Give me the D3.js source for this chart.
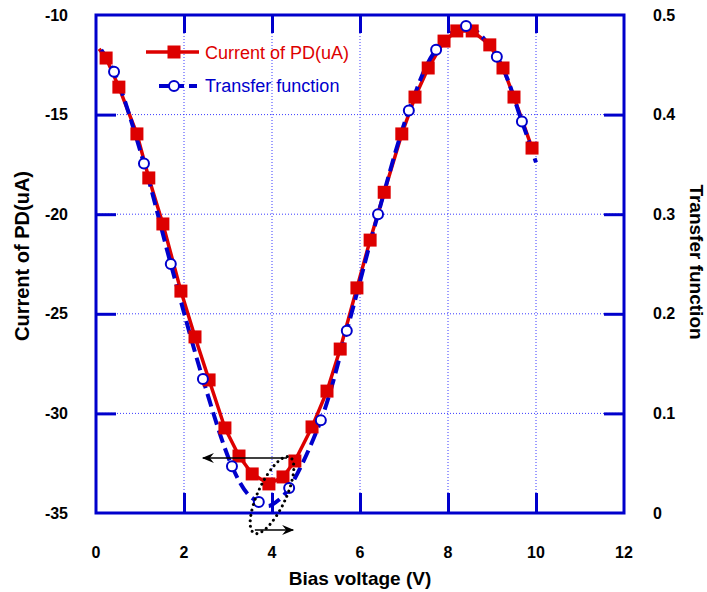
<!DOCTYPE html>
<html>
<head>
<meta charset="utf-8">
<script src="https://cdn.jsdelivr.net/npm/d3@7"></script>
<style>
  html, body { margin: 0; padding: 0; background: #fff; }
  svg { display: block; font-family: "Liberation Sans", Arial, sans-serif; }
</style>
</head>
<body>
<svg id="chart" width="707" height="592"></svg>
<script>
// ---- data ----
const xTicks = [0, 2, 4, 6, 8, 10, 12];
const yLeftTicks = [-10, -15, -20, -25, -30, -35];
const yRightTicks = [0, 0.1, 0.2, 0.3, 0.4, 0.5];
const yRightLabels = ["0", "0.1", "0.2", "0.3", "0.4", "0.5"];

// Current of PD (uA); first point is the line start (no marker)
const currentX = [0.07, 0.23, 0.52, 0.93, 1.2, 1.52, 1.93, 2.25, 2.57, 2.93, 3.25, 3.55, 3.93, 4.25, 4.52, 4.91, 5.25, 5.55, 5.93, 6.23, 6.55, 6.95, 7.25, 7.55, 7.91, 8.2, 8.55, 8.95, 9.25, 9.5, 9.91];
const currentY = [-11.7, -12.16, -13.62, -15.97, -18.18, -20.49, -23.86, -26.16, -28.32, -30.73, -32.14, -33.04, -33.54, -33.19, -32.39, -30.68, -28.88, -26.77, -23.7, -21.3, -18.9, -15.97, -14.12, -12.66, -11.31, -10.8, -10.8, -11.5, -12.66, -14.12, -16.68];

// Transfer function: curve and marker points
const tfLineX = [0.12, 0.41, 1.09, 1.7, 2.43, 3.09, 3.45, 3.7, 3.92, 4.15, 4.39, 5.11, 5.7, 6.41, 7.11, 7.73, 8.41, 9.11, 9.68, 10.0];
const tfLineY = [0.465, 0.443, 0.351, 0.25, 0.1345, 0.047, 0.019, 0.011, 0.007, 0.013, 0.025, 0.093, 0.183, 0.300, 0.404, 0.465, 0.489, 0.458, 0.393, 0.352];
const tfMarkX = [0.41, 1.09, 1.7, 2.43, 3.09, 3.7, 4.39, 5.11, 5.7, 6.41, 7.11, 7.73, 8.41, 9.11, 9.68];
const tfMarkY = [0.443, 0.351, 0.25, 0.1345, 0.047, 0.011, 0.025, 0.093, 0.183, 0.300, 0.404, 0.465, 0.489, 0.458, 0.393];

// annotations (data units)
const arrowTop = { x1: 4.34, x2: 2.43, y: -32.24 };
const arrowBottom = { x1: 3.61, x2: 4.48, y: -35.85 };
const ellipseCenter = { x: 4.0, y: -34.1 };

// ---- layout ----
const L = 96, R = 624, T = 15, B = 513;
const BLUE = "#0000CC", RED = "#DD0000", GRID = "#3a3aff";

const svg = d3.select("#chart");
const x = d3.scaleLinear().domain([0, 12]).range([L, R]);
const yL = d3.scaleLinear().domain([-35, -10]).range([B, T]);
const yR = d3.scaleLinear().domain([0, 0.5]).range([B, T]);

// defs: arrowheads
const defs = svg.append("defs");
defs.append("marker").attr("id", "arr")
  .attr("viewBox", "0 0 12 10").attr("refX", 11).attr("refY", 5)
  .attr("markerWidth", 13).attr("markerHeight", 10).attr("markerUnits", "userSpaceOnUse")
  .attr("orient", "auto")
  .append("path").attr("d", "M0,0 L12,5 L0,10 L4,5 Z").attr("fill", "#000");

// grid
const gridX = xTicks.filter(d => d > 0 && d < 12);
const gridY = yLeftTicks.filter(d => d > -35 && d < -10);
svg.append("g").selectAll("line").data(gridX).join("line")
  .attr("x1", d => x(d)).attr("x2", d => x(d)).attr("y1", T).attr("y2", B)
  .attr("stroke", GRID).attr("stroke-width", 1).attr("stroke-dasharray", "1,2");
svg.append("g").selectAll("line").data(gridY).join("line")
  .attr("x1", L).attr("x2", R).attr("y1", d => yL(d)).attr("y2", d => yL(d))
  .attr("stroke", GRID).attr("stroke-width", 1).attr("stroke-dasharray", "1,2");

// axes with inward ticks
function styleAxis(g) {
  g.select(".domain").remove();
  g.selectAll(".tick line").attr("stroke", BLUE).attr("stroke-width", 3);
  g.selectAll(".tick text").remove();
}
svg.append("g").attr("transform", `translate(${L},0)`)
  .call(d3.axisRight(yL).tickValues(gridY).tickSize(20)).call(styleAxis);
svg.append("g").attr("transform", `translate(${R},0)`)
  .call(d3.axisLeft(yR).tickValues(yRightTicks.slice(1, 5)).tickSize(20)).call(styleAxis);
svg.append("g").attr("transform", `translate(0,${B})`)
  .call(d3.axisTop(x).tickValues(gridX).tickSize(20)).call(styleAxis);
svg.append("g").attr("transform", `translate(0,${T})`)
  .call(d3.axisBottom(x).tickValues(gridX).tickSize(18)).call(styleAxis);

// frame
svg.append("rect").attr("x", L).attr("y", T).attr("width", R - L).attr("height", B - T)
  .attr("fill", "none").attr("stroke", BLUE).attr("stroke-width", 3);

// tick labels
const TF = 16;
svg.append("g").selectAll("text").data(yLeftTicks).join("text")
  .attr("x", 68).attr("y", d => yL(d)).attr("dy", "0.35em")
  .attr("text-anchor", "end").attr("font-weight", "bold").attr("font-size", TF)
  .text(d => d);
svg.append("g").selectAll("text").data(yRightTicks).join("text")
  .attr("x", 653).attr("y", d => yR(d)).attr("dy", "0.35em")
  .attr("text-anchor", "start").attr("font-weight", "bold").attr("font-size", TF)
  .text((d, i) => yRightLabels[i]);
svg.append("g").selectAll("text").data(xTicks).join("text")
  .attr("x", d => x(d)).attr("y", 552).attr("dy", "0.35em")
  .attr("text-anchor", "middle").attr("font-weight", "bold").attr("font-size", TF)
  .text(d => d);

// axis titles
svg.append("text").attr("transform", `translate(22,256) rotate(-90)`)
  .attr("text-anchor", "middle").attr("dy", "0.35em").attr("font-weight", "bold").attr("font-size", 20)
  .text("Current of PD(uA)");
svg.append("text").attr("transform", `translate(697,262) rotate(90)`)
  .attr("text-anchor", "middle").attr("dy", "0.35em").attr("font-weight", "bold").attr("font-size", 19)
  .text("Transfer function");
svg.append("text").attr("x", 360).attr("y", 578).attr("dy", "0.35em")
  .attr("text-anchor", "middle").attr("font-weight", "bold").attr("font-size", 19)
  .text("Bias voltage (V)");

// series
const curData = currentX.map((d, i) => [d, currentY[i]]);
const tfLine = tfLineX.map((d, i) => [d, tfLineY[i]]);
const tfMarks = tfMarkX.map((d, i) => [d, tfMarkY[i]]);

svg.append("path").datum(curData)
  .attr("d", d3.line().x(d => x(d[0])).y(d => yL(d[1])))
  .attr("fill", "none").attr("stroke", RED).attr("stroke-width", 3.5).attr("stroke-linejoin", "round");

svg.append("path").datum(tfLine)
  .attr("d", d3.line().curve(d3.curveCatmullRom.alpha(0.5)).x(d => x(d[0])).y(d => yR(d[1])))
  .attr("fill", "none").attr("stroke", BLUE).attr("stroke-width", 4).attr("stroke-dasharray", "13,6");

const sq = 13;
svg.append("g").selectAll("rect").data(curData.slice(1)).join("rect")
  .attr("x", d => x(d[0]) - sq / 2).attr("y", d => yL(d[1]) - sq / 2)
  .attr("width", sq).attr("height", sq).attr("fill", RED);

svg.append("g").selectAll("circle").data(tfMarks).join("circle")
  .attr("cx", d => x(d[0])).attr("cy", d => yR(d[1])).attr("r", 5)
  .attr("fill", "#fff").attr("stroke", BLUE).attr("stroke-width", 2);

// annotations
svg.append("line")
  .attr("x1", x(arrowTop.x1)).attr("x2", x(arrowTop.x2))
  .attr("y1", yL(arrowTop.y)).attr("y2", yL(arrowTop.y))
  .attr("stroke", "#000").attr("stroke-width", 1.5).attr("marker-end", "url(#arr)");
svg.append("line")
  .attr("x1", x(arrowBottom.x1)).attr("x2", x(arrowBottom.x2))
  .attr("y1", yL(arrowBottom.y)).attr("y2", yL(arrowBottom.y))
  .attr("stroke", "#000").attr("stroke-width", 1.5).attr("marker-end", "url(#arr)");
svg.append("ellipse")
  .attr("transform", `translate(${x(ellipseCenter.x)},${yL(ellipseCenter.y)}) rotate(25)`)
  .attr("rx", 14).attr("ry", 42)
  .attr("fill", "none").attr("stroke", "#000").attr("stroke-width", 3)
  .attr("stroke-linecap", "round").attr("stroke-dasharray", "0,5.5");

// legend
const lg = svg.append("g");
lg.append("line").attr("x1", 146).attr("x2", 199).attr("y1", 52).attr("y2", 52)
  .attr("stroke", RED).attr("stroke-width", 3.5);
lg.append("rect").attr("x", 174 - sq / 2).attr("y", 52 - sq / 2).attr("width", sq).attr("height", sq).attr("fill", RED);
lg.append("text").attr("x", 205).attr("y", 53).attr("dy", "0.35em")
  .attr("font-size", 18).attr("fill", RED).text("Current of PD(uA)");
lg.append("line").attr("x1", 159).attr("x2", 197).attr("y1", 86).attr("y2", 86)
  .attr("stroke", BLUE).attr("stroke-width", 4).attr("stroke-dasharray", "10,5");
lg.append("circle").attr("cx", 174).attr("cy", 86).attr("r", 5)
  .attr("fill", "#fff").attr("stroke", BLUE).attr("stroke-width", 2);
lg.append("text").attr("x", 205).attr("y", 86).attr("dy", "0.35em")
  .attr("font-size", 18).attr("fill", BLUE).text("Transfer function");
</script>
</body>
</html>
